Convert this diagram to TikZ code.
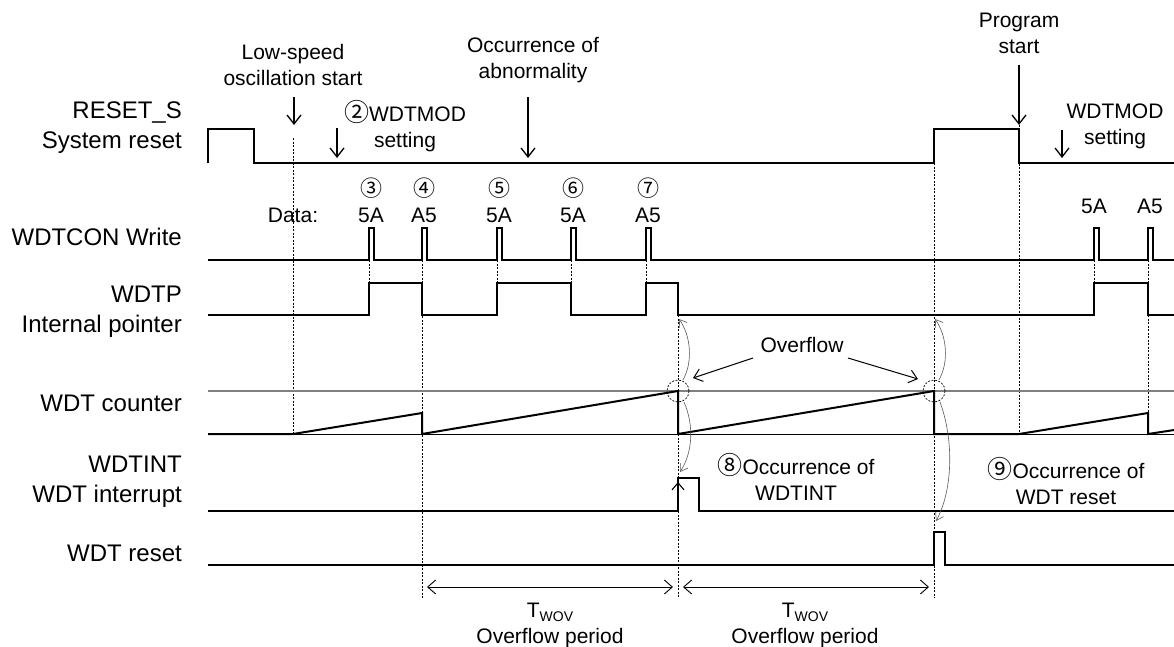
\documentclass[tikz,border=0pt]{standalone}
\usepackage{fontspec}
\setmainfont{Liberation Sans}
\newfontfamily\cjk{Noto Sans CJK JP}
\usetikzlibrary{arrows.meta}
\tikzset{
  lbl/.style={anchor=east, align=right, inner sep=0pt, font=\fontsize{24}{30}\selectfont},
  ann/.style={align=center, inner sep=0pt, font=\fontsize{21}{26}\selectfont},
  dat/.style={inner sep=0pt, font=\fontsize{21}{26}\selectfont},
  cnum/.style={inner sep=0pt, font=\cjk\fontsize{22}{22}\selectfont},
  sig/.style={line width=1.3pt, line join=miter},
  ramp/.style={line width=2pt, line join=miter},
  thinln/.style={line width=1pt},
  grayln/.style={line width=1.2pt, gray},
  dsh/.style={line width=0.7pt, dash pattern=on 2pt off 1.5pt},
  marker/.style={-{Straight Barb[length=9pt,width=14pt]}, line width=1.3pt},
  ovarrow/.style={-{Straight Barb[length=8pt,width=13pt]}, line width=1pt},
  curv/.style={-{Straight Barb[length=7pt,width=9pt]}, line width=0.6pt, gray!70!black},
  dcirc/.style={line width=0.7pt, dash pattern=on 2pt off 1.5pt},
  period/.style={{Straight Barb[length=8pt,width=14pt]}-{Straight Barb[length=8pt,width=14pt]}, line width=0.9pt},
}
\newcommand{\cnumin}[1]{{\cjk\fontsize{25}{25}\selectfont #1}}
\begin{document}
\begin{tikzpicture}[x=1pt,y=-1pt]
\useasboundingbox (0,0) rectangle (1174,646);

% ---------- left labels ----------
\node[lbl] (lreset) at (182,128) {RESET\_S\\System reset};
\node[lbl] (lcon)   at (182,237) {WDTCON Write};
\node[lbl] (lwdtp)  at (182,312) {WDTP\\Internal pointer};
\node[lbl] (lcnt)   at (182,403) {WDT counter};
\node[lbl] (lint)   at (182,482) {WDTINT\\WDT interrupt};
\node[lbl] (lrst)   at (182,553) {WDT reset};

% ---------- dashed guide lines ----------
\draw[dsh] (293,138) -- (293,434);
\draw[dsh] (422,260) -- (422,598);
\draw[dsh] (369,260) -- (369,283);
\draw[dsh] (497,260) -- (497,283);
\draw[dsh] (571,260) -- (571,283);
\draw[dsh] (646,260) -- (646,283);
\draw[dsh] (678,315) -- (678,598);
\draw[dsh] (934,163) -- (934,598);
\draw[dsh] (1019,125) -- (1019,434);
\draw[dsh] (1094,260) -- (1094,283);
\draw[dsh] (1148,260) -- (1148,283);
\draw[dsh] (1148,315) -- (1148,413);

% ---------- RESET_S ----------
\draw[sig] (208,163) -- (208,129) -- (254,129) -- (254,163) -- (934,163) -- (934,129)
  -- (1019,129) -- (1019,163) -- (1174,163);

% ---------- WDTCON write ----------
\draw[sig] (208,260)
  \foreach \p in {369,422,497,571,646,1094,1148} { -- (\p,260) -- (\p,228) -- (\p+5,228) -- (\p+5,260) }
  -- (1174,260);

% ---------- WDTP ----------
\draw[sig] (208,315) -- (369,315) -- (369,283) -- (422,283) -- (422,315) -- (497,315) -- (497,283)
  -- (571,283) -- (571,315) -- (646,315) -- (646,283) -- (678,283) -- (678,315) -- (1094,315)
  -- (1094,283) -- (1148,283) -- (1148,315) -- (1174,315);

% ---------- WDT counter ----------
\draw[grayln] (208,391) -- (1174,391);
\draw[thinln] (208,434) -- (1174,434);
\draw[ramp] (208,434) -- (293,434) -- (422,413) -- (422,434) -- (678,391) -- (678,434)
  -- (934,391) -- (934,434) -- (1019,434) -- (1148,413) -- (1148,434) -- (1174,430);

% ---------- WDTINT ----------
\draw[sig] (208,511) -- (678,511) -- (678,478) -- (699,478) -- (699,511) -- (1174,511);
\draw[-{Straight Barb[length=7pt,width=12pt]}, line width=1.1pt] (678,500) -- (678,482);

% ---------- WDT reset ----------
\draw[sig] (208,565) -- (934,565) -- (934,532) -- (945,532) -- (945,565) -- (1174,565);

% ---------- top annotations ----------
\node[ann] (lowspd) at (293,65) {Low-speed\\oscillation start};
\draw[marker] (294,97) -- (294,125);
\node[ann] (wdtmod1) at (405,126) {\cnumin{②}WDTMOD\\setting};
\draw[marker] (337,128) -- (337,158);
\node[ann] (abn) at (533,60) {Occurrence of\\abnormality};
\draw[marker] (528,97) -- (528,158);
\node[ann] (prog) at (1019,33) {Program\\start};
\draw[marker] (1019,65) -- (1019,125);
\node[ann] (wdtmod2) at (1115,126) {WDTMOD\\setting};
\draw[marker] (1062,130) -- (1062,158);

% ---------- data labels ----------
\node[dat] (data) at (293,215) {Data:};
\foreach \p/\t/\c in {369/5A/③,422/A5/④,497/5A/⑤,571/5A/⑥,646/A5/⑦} {
  \node[dat] at (\p+2,215) {\t};
  \node[cnum] at (\p+2,188) {\c};
}
\node[dat] (d5a) at (1094,206) {5A};
\node[dat] (da5) at (1150,206) {A5};

% ---------- overflow ----------
\draw[dcirc] (678,391) circle (11);
\draw[dcirc] (934,391) circle (11);
\node[ann] (ovf) at (802,345) {Overflow};
\draw[ovarrow] (753,358) -- (693,378);
\draw[ovarrow] (848,358) -- (918,379);
\draw[curv] (683,380) .. controls (693,362) and (691,336) .. (679,319);
\draw[curv] (684,402) .. controls (694,425) and (693,452) .. (680,472);
\draw[curv] (939,380) .. controls (949,362) and (947,336) .. (935,319);
\draw[curv] (940,402) .. controls (954,440) and (953,490) .. (936,521);

\node[ann] (int8) at (796,477) {\cnumin{⑧}Occurrence of\\WDTINT};
\node[ann] (rst9) at (1066,481) {\cnumin{⑨}Occurrence of\\WDT reset};

% ---------- periods ----------
\draw[period] (427,587) -- (673,587);
\draw[period] (683,587) -- (929,587);
\node[ann] (tw1) at (550,625) {T\raisebox{-4pt}{\fontsize{14}{14}\selectfont WOV}\\Overflow period};
\node[ann] (tw2) at (805,625) {T\raisebox{-4pt}{\fontsize{14}{14}\selectfont WOV}\\Overflow period};
\end{tikzpicture}
\end{document}
